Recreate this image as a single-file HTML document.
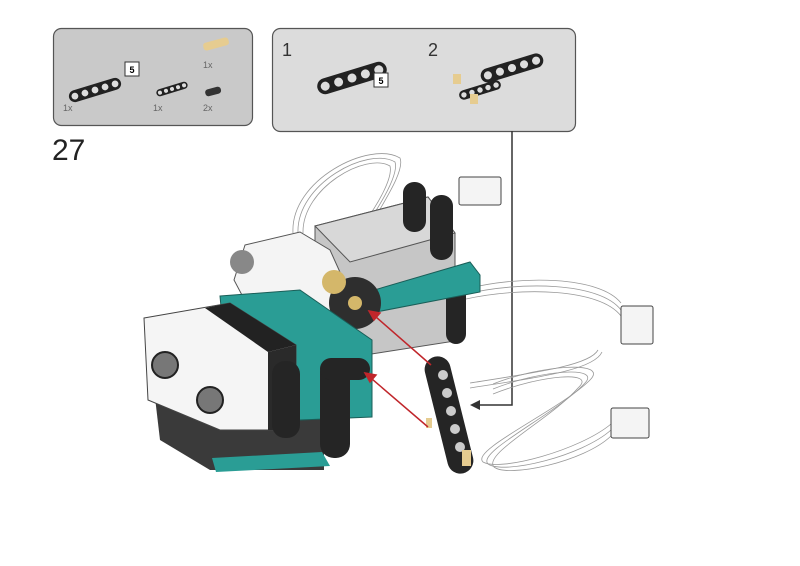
<!DOCTYPE html>
<html><head><style>
html,body{margin:0;padding:0;background:#fff;width:800px;height:566px;overflow:hidden}
svg{display:block}
text{font-family:"Liberation Sans",sans-serif}
</style></head><body>
<svg width="800" height="566" viewBox="0 0 800 566">
<defs>
<g id="beam5">
<rect x="-36" y="-8" width="72" height="16" rx="8" fill="#222"/>
<circle cx="-28" cy="0" r="4.5" fill="#ddd"/><circle cx="-14" cy="0" r="4.5" fill="#ddd"/><circle cx="0" cy="0" r="4.5" fill="#ddd"/><circle cx="14" cy="0" r="4.5" fill="#ddd"/><circle cx="28" cy="0" r="4.5" fill="#ddd"/>
</g>
</defs>
<!-- panel 1 -->
<rect x="53.5" y="28.5" width="199" height="97" rx="8" fill="#c9c9c9" stroke="#555" stroke-width="1.2"/>
<use href="#beam5" transform="translate(95,90) rotate(-17) scale(0.75)"/>
<rect x="125" y="62" width="14" height="14" fill="#fff" stroke="#333"/>
<text x="132" y="73" font-size="9" text-anchor="middle" font-weight="bold">5</text>
<use href="#beam5" transform="translate(172,89) rotate(-17) scale(0.45)"/>
<rect x="203" y="40" width="26" height="8" rx="3" fill="#e6cc90" transform="rotate(-15 216 44)"/>
<rect x="205" y="88" width="16" height="7" rx="3" fill="#333" transform="rotate(-15 213 91)"/>
<text x="63" y="111" font-size="9" fill="#666">1x</text>
<text x="153" y="111" font-size="9" fill="#666">1x</text>
<text x="203" y="68" font-size="9" fill="#666">1x</text>
<text x="203" y="111" font-size="9" fill="#666">2x</text>
<text x="52" y="160" font-size="30" fill="#222">27</text>
<!-- panel 2 -->
<rect x="272.5" y="28.5" width="303" height="103" rx="8" fill="#dcdcdc" stroke="#555" stroke-width="1.2"/>
<text x="282" y="56" font-size="18" fill="#333">1</text>
<text x="428" y="56" font-size="18" fill="#333">2</text>
<use href="#beam5" transform="translate(352,78) rotate(-17)"/>
<rect x="374" y="73" width="14" height="14" fill="#fff" stroke="#333"/>
<text x="381" y="84" font-size="9" text-anchor="middle" font-weight="bold">5</text>
<use href="#beam5" transform="translate(512,68) rotate(-17) scale(0.9)"/>
<use href="#beam5" transform="translate(480,90) rotate(-17) scale(0.6)"/>
<rect x="453" y="74" width="8" height="10" fill="#e6cc90"/>
<rect x="470" y="94" width="8" height="10" fill="#e6cc90"/>
<!-- connector line -->
<polyline points="512,131 512,405 478,405" fill="none" stroke="#333" stroke-width="1.5"/>
<polygon points="470,405 480,400 480,410" fill="#333"/>
<!-- cables -->
<g fill="none" stroke="#999" stroke-width="0.8">
<path d="M293,233 C290,180 370,140 400,158 C405,170 385,200 372,223"/>
<path d="M298,233 C296,184 368,146 395,162 C399,174 382,202 368,223"/>
<path d="M303,233 C302,188 366,152 390,166 C393,178 378,204 364,223"/>
<path d="M466,289 C520,275 600,276 621,303 M466,294 C520,281 600,282 621,310 M466,299 C520,287 600,288 621,316"/>
<path d="M470,383 C540,372 590,365 598,350 M470,388 C540,377 594,370 602,352"/>
<path d="M493,384 C540,365 610,360 590,380 C560,410 470,450 483,462 C500,472 580,450 611,424"/>
<path d="M493,389 C540,370 604,365 584,384 C556,414 476,452 488,464 C504,475 582,456 611,430"/>
<path d="M493,394 C540,375 598,370 578,388 C552,418 482,454 494,467 C508,478 584,462 611,436"/>
</g>
<g fill="#f4f4f4" stroke="#444">
<rect x="459" y="177" width="42" height="28" rx="2"/>
<rect x="621" y="306" width="32" height="38" rx="2"/>
<rect x="611" y="408" width="38" height="30" rx="2"/>
</g>
<!-- motor -->
<polygon points="315,226 428,197 455,233 455,341 365,355 315,300" fill="#c6c6c6" stroke="#555"/>
<polygon points="315,226 428,197 455,233 350,262" fill="#d8d8d8" stroke="#555"/>
<!-- white sensor -->
<polygon points="245,245 300,232 330,250 348,290 340,348 270,348 234,280" fill="#f4f4f4" stroke="#555"/>
<circle cx="242" cy="262" r="12" fill="#888"/>
<!-- vertical beams -->
<rect x="403" y="182" width="23" height="50" rx="11" fill="#252525"/>
<rect x="430" y="195" width="23" height="65" rx="11" fill="#252525"/>
<rect x="446" y="271" width="20" height="73" rx="10" fill="#252525"/>
<!-- teal beam -->
<polygon points="340,300 470,262 480,275 480,292 345,318" fill="#2a9d95" stroke="#1a5e58"/>
<circle cx="355" cy="303" r="26" fill="#2e2e2e"/><circle cx="355" cy="303" r="7" fill="#d4b76a"/>
<circle cx="334" cy="282" r="12" fill="#d4b76a"/>
<!-- dark bottom -->
<polygon points="154,389 250,380 324,420 324,470 210,470 160,440" fill="#3a3a3a"/>
<polygon points="212,458 322,452 330,466 216,472" fill="#2a9d95"/>
<!-- teal left structure -->
<polygon points="220,296 300,290 372,340 372,417 300,420 225,350" fill="#2a9d95" stroke="#1a5e58"/>
<!-- distance sensor -->
<polygon points="144,318 230,303 296,345 296,430 220,430 148,400" fill="#f5f5f5" stroke="#444"/>
<polygon points="205,308 230,303 296,345 268,352" fill="#222"/>
<polygon points="268,352 296,345 296,430 268,430" fill="#2a2a2a"/>
<circle cx="165" cy="365" r="13" fill="#777" stroke="#222" stroke-width="2"/>
<circle cx="210" cy="400" r="13" fill="#777" stroke="#222" stroke-width="2"/>
<!-- black L beams -->
<rect x="272" y="361" width="28" height="77" rx="13" fill="#252525"/>
<rect x="320" y="358" width="30" height="100" rx="14" fill="#252525"/>
<rect x="320" y="358" width="50" height="22" rx="11" fill="#252525"/>
<!-- loose beam -->
<rect x="436" y="355" width="26" height="120" rx="13" fill="#252525" transform="rotate(-14 449 415)"/>
<circle cx="443" cy="375" r="5" fill="#ccc"/><circle cx="447" cy="393" r="5" fill="#ccc"/><circle cx="451" cy="411" r="5" fill="#ccc"/><circle cx="455" cy="429" r="5" fill="#ccc"/><circle cx="460" cy="447" r="5" fill="#ccc"/>
<rect x="462" y="450" width="9" height="16" fill="#e6cc90"/>
<rect x="426" y="418" width="6" height="10" fill="#e6cc90"/>
<!-- red arrows -->
<g stroke="#c0262b" stroke-width="1.5" fill="#c0262b">
<line x1="431" y1="365" x2="376" y2="317"/><polygon points="369,311 380,313 374,320"/>
<line x1="428" y1="427" x2="372" y2="379"/><polygon points="365,373 376,375 370,382"/>
</g>
</svg>
</body></html>
